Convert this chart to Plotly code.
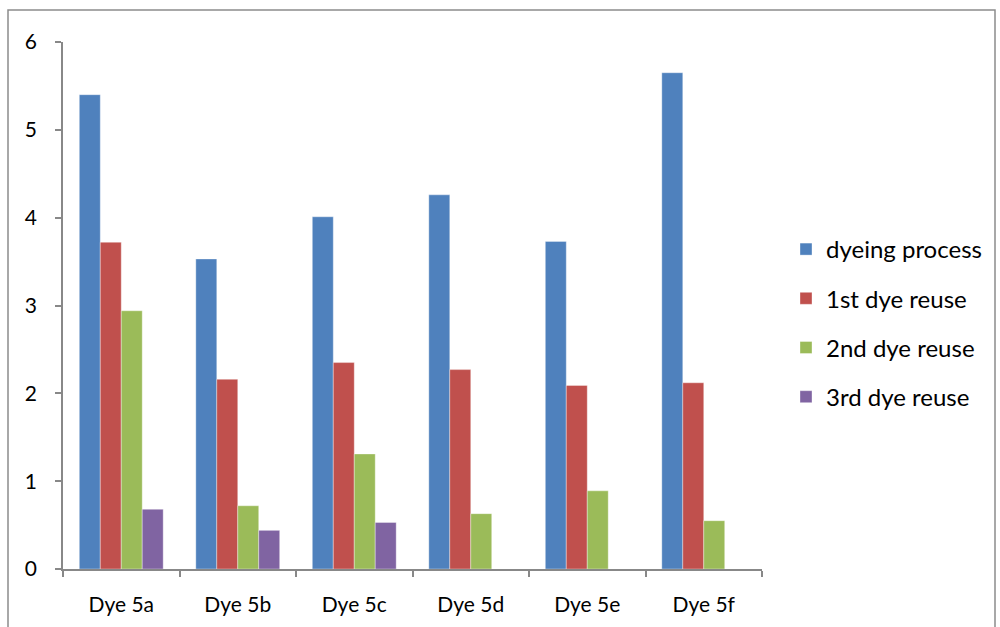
import plotly.graph_objects as go

categories = ["Dye 5a", "Dye 5b", "Dye 5c", "Dye 5d", "Dye 5e", "Dye 5f"]
dyeing_process = [5.40, 3.53, 4.01, 4.26, 3.73, 5.65]
reuse_1st = [3.72, 2.16, 2.35, 2.27, 2.09, 2.12]
reuse_2nd = [2.94, 0.72, 1.31, 0.63, 0.89, 0.55]
reuse_3rd = [0.68, 0.44, 0.53, None, None, None]

series = [
    ("dyeing process", dyeing_process, "#4F81BD"),
    ("1st dye reuse", reuse_1st, "#C0504D"),
    ("2nd dye reuse", reuse_2nd, "#9BBB59"),
    ("3rd dye reuse", reuse_3rd, "#8064A2"),
]

FONT = "Lato, 'Liberation Sans', sans-serif"

fig = go.Figure()
for i, (name, vals, color) in enumerate(series):
    fig.add_trace(go.Bar(
        x=categories, y=vals, name=name, legendgroup=f"g{i}",
        marker=dict(color=color, line=dict(color="rgba(255,255,255,0.6)", width=0.6)),
    ))

L, R, T, B = 63, 762, 42, 569
W, H = 1000, 627
pw, ph = R - L, B - T

def px(x):
    return (x - L) / pw

def py(y):
    return (B - y) / ph

fig.update_layout(
    width=W, height=H,
    margin=dict(l=L, r=W - R, t=T, b=H - B, pad=0),
    paper_bgcolor="white", plot_bgcolor="white",
    barmode="group", bargap=0.28, bargroupgap=0,
    font=dict(family=FONT, size=20, color="#000000"),
    showlegend=True,
    legend=dict(
        x=px(786), xanchor="left", y=py(323), yanchor="middle",
        font=dict(family=FONT, size=24, color="#000000"),
        tracegroupgap=15, itemwidth=30, bgcolor="rgba(0,0,0,0)",
    ),
    xaxis=dict(
        type="category", tickson="boundaries", ticks="outside", ticklen=6,
        tickcolor="#888888", tickwidth=1.5, showline=True, linecolor="#888888",
        linewidth=1.5, showgrid=False, zeroline=False,
        tickfont=dict(family=FONT, size=21, color="#000000"),
        ticklabelstandoff=16,
    ),
    yaxis=dict(
        range=[0, 6], dtick=1, ticks="outside", ticklen=6, tickcolor="#888888",
        tickwidth=1.5, showline=True, linecolor="#888888", linewidth=1.5,
        showgrid=False, zeroline=False,
        tickfont=dict(family=FONT, size=21, color="#000000"),
        ticklabelstandoff=14,
    ),
    shapes=[dict(
        type="rect", xref="paper", yref="paper",
        x0=px(8), x1=px(995), y0=py(650), y1=py(10),
        line=dict(color="#8c8c8c", width=1.5), fillcolor="rgba(0,0,0,0)", layer="below",
    )],
)

fig.write_html(
    "out.html",
    config={"displayModeBar": False},
    post_script="document.body.style.margin='0';document.body.style.overflow='hidden';",
)
